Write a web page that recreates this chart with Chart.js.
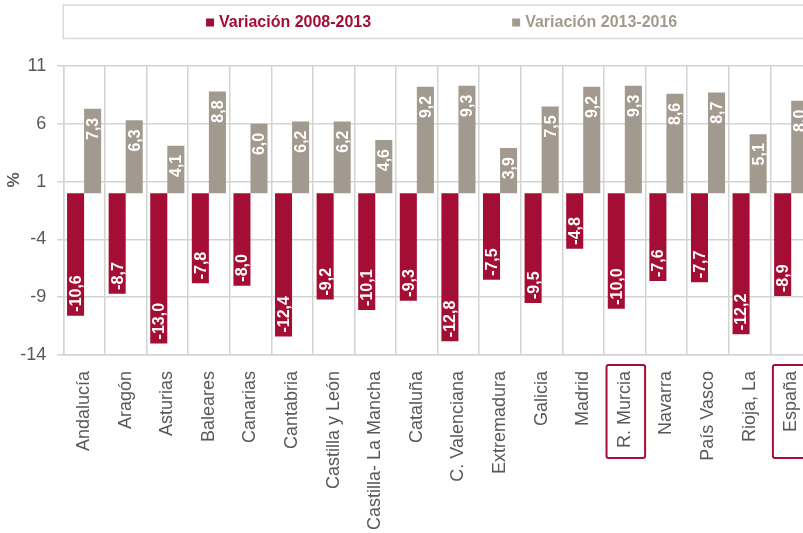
<!DOCTYPE html>
<html>
<head>
<meta charset="utf-8">
<script src="https://cdn.jsdelivr.net/npm/chart.js@4.4.1/dist/chart.umd.min.js"></script>
<style>
  html, body { margin: 0; padding: 0; overflow: hidden; background: #ffffff; }
  #wrap { position: absolute; left: 0; top: 0; width: 820px; height: 533px; }
</style>
</head>
<body>
<div id="wrap"><canvas id="c" width="820" height="533"></canvas></div>
<script>
// ---- data ----
const categories = ["Andalucía", "Aragón", "Asturias", "Baleares", "Canarias", "Cantabria",
  "Castilla y León", "Castilla- La Mancha", "Cataluña", "C. Valenciana", "Extremadura",
  "Galicia", "Madrid", "R. Murcia", "Navarra", "País Vasco", "Rioja, La", "España"];
const var2008_2013 = [-10.6, -8.7, -13.0, -7.8, -8.0, -12.4, -9.2, -10.1, -9.3, -12.8,
  -7.5, -9.5, -4.8, -10.0, -7.6, -7.7, -12.2, -8.9];
const var2013_2016 = [7.3, 6.3, 4.1, 8.8, 6.0, 6.2, 6.2, 4.6, 9.2, 9.3,
  3.9, 7.5, 9.2, 9.3, 8.6, 8.7, 5.1, 8.0];
const seriesLabels = ["Variación 2008-2013", "Variación 2013-2016"];
const yTicks = [-14, -9, -4, 1, 6, 11];
const highlighted = ["R. Murcia", "España"];
const yTitle = "%";

const RED = "#A50E34";
const GRAY = "#A39A8F";
const GRID = "#d3d3d3";
const TXT = "#595959";
const FONT = "'Liberation Sans', Arial, sans-serif";

function fmt(v) { return v.toFixed(1).replace('.', ','); }

const labelPlugin = {
  id: 'barLabels',
  afterDatasetsDraw(chart) {
    const ctx = chart.ctx;
    ctx.save();
    ctx.font = "bold 16px " + FONT;
    ctx.fillStyle = "#ffffff";
    ctx.textBaseline = "middle";
    chart.data.datasets.forEach((ds, di) => {
      const meta = chart.getDatasetMeta(di);
      meta.data.forEach((bar, i) => {
        const v = ds.data[i];
        const txt = fmt(v);
        ctx.save();
        if (v >= 0) {
          ctx.translate(bar.x + 1, bar.y + 9);
          ctx.rotate(-Math.PI / 2);
          ctx.textAlign = "right";
        } else {
          ctx.translate(bar.x + 1, bar.y - 4);
          ctx.rotate(-Math.PI / 2);
          ctx.textAlign = "left";
        }
        ctx.fillText(txt, 0, 0);
        ctx.restore();
      });
    });
    ctx.restore();
  }
};

const decorPlugin = {
  id: 'decor',
  afterDraw(chart) {
    const ctx = chart.ctx;
    const area = chart.chartArea;
    ctx.save();
    // legend frame
    ctx.strokeStyle = "#d9d9d9";
    ctx.lineWidth = 1.5;
    ctx.strokeRect(area.left, 5, chart.width, 33.5);
    // legend items
    ctx.font = "bold 16px " + FONT;
    ctx.textBaseline = "middle";
    ctx.textAlign = "left";
    const box = 8, gapBox = 5, gapItems = 141;
    const widths = chart.data.datasets.map(d => box + gapBox + ctx.measureText(d.label).width);
    const total = widths[0] + gapItems + widths[1];
    let x = (area.left + area.right) / 2 + 4 - total / 2;
    const ly = 22.5;
    chart.data.datasets.forEach((d, i) => {
      ctx.fillStyle = d.backgroundColor;
      ctx.fillRect(x, ly - 4, box, box);
      ctx.fillText(d.label, x + box + gapBox, ly + 0.5);
      x += widths[i] + gapItems;
    });
    // y title
    ctx.save();
    ctx.font = "bold 17px " + FONT;
    ctx.fillStyle = TXT;
    ctx.textAlign = "center";
    ctx.translate(14, area.top + 114);
    ctx.rotate(-Math.PI / 2);
    ctx.fillText(yTitle, 0, 0);
    ctx.restore();
    // highlighted category label frames
    const xs = chart.scales.x;
    const half = xs.width / categories.length / 2 - 1.5;
    ctx.strokeStyle = RED;
    ctx.lineWidth = 2;
    highlighted.forEach(name => {
      const idx = categories.indexOf(name);
      if (idx < 0) return;
      const cx = xs.getPixelForValue(idx);
      const top = area.bottom + 10, bottom = area.bottom + 103;
      ctx.beginPath();
      if (ctx.roundRect) ctx.roundRect(cx - half + 1, top, 2 * half, bottom - top, 2);
      else ctx.rect(cx - half + 1, top, 2 * half, bottom - top);
      ctx.stroke();
    });
    ctx.restore();
  }
};

new Chart(document.getElementById('c'), {
  type: 'bar',
  data: {
    labels: categories,
    datasets: [
      { label: seriesLabels[0], data: var2008_2013, backgroundColor: RED,
        categoryPercentage: 0.82, barPercentage: 1.0 },
      { label: seriesLabels[1], data: var2013_2016, backgroundColor: GRAY,
        categoryPercentage: 0.82, barPercentage: 1.0 }
    ]
  },
  options: {
    responsive: false,
    animation: false,
    layout: { padding: { top: 66, right: 8, bottom: 0, left: 0 } },
    plugins: {
      legend: { display: false },
      tooltip: { enabled: false }
    },
    scales: {
      x: {
        grid: { color: GRID, lineWidth: 1.5, offset: true, drawTicks: false },
        border: { color: GRID, width: 1.5 },
        ticks: {
          color: TXT, font: { family: FONT, size: 18 },
          minRotation: 90, maxRotation: 90, autoSkip: false, padding: 16
        },
        afterFit(s) { s.height = 178; s.paddingLeft = 0; s.paddingRight = 0; }
      },
      y: {
        min: -14, max: 11,
        afterBuildTicks(s) { s.ticks = yTicks.map(v => ({ value: v })); },
        grid: { color: GRID, lineWidth: 1.5, tickLength: 6 },
        border: { color: GRID, width: 1.5 },
        ticks: {
          color: TXT, font: { family: FONT, size: 18 }, padding: 11,
          callback: v => String(v)
        },
        afterFit(s) { s.width = 63.3; }
      }
    }
  },
  plugins: [labelPlugin, decorPlugin]
});
</script>
</body>
</html>
